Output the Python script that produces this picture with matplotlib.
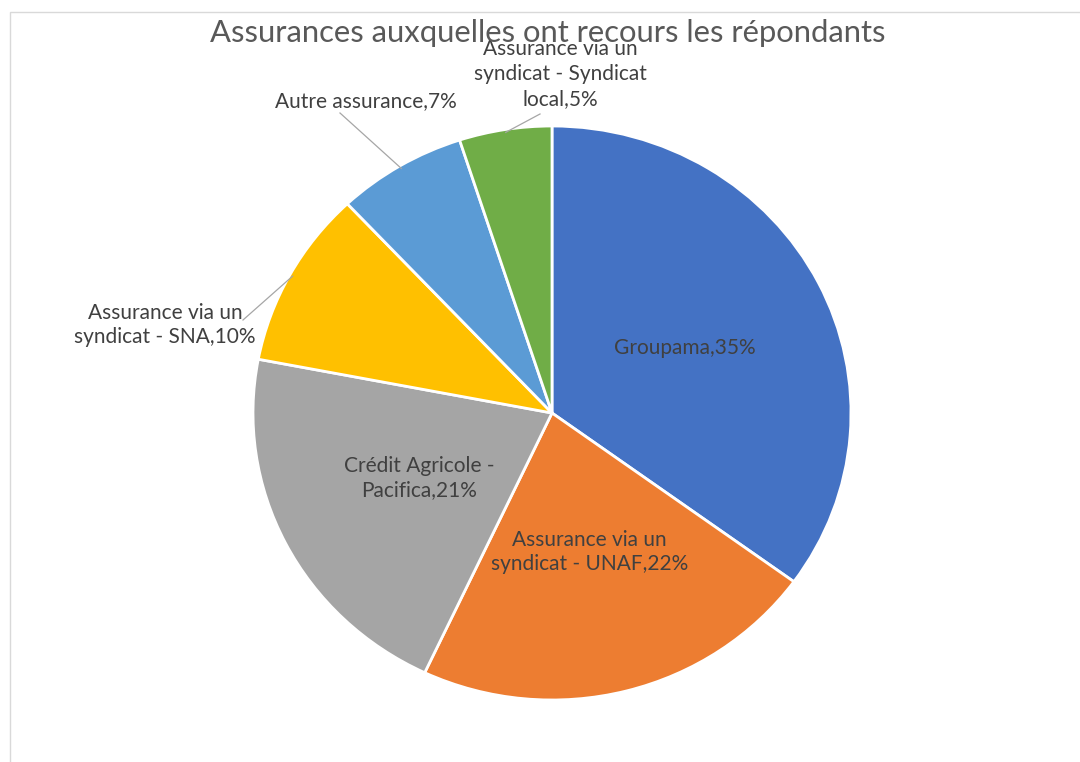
import numpy as np
import matplotlib.pyplot as plt
from matplotlib.patches import Rectangle

labels = ["Groupama", "Assurance via un\nsyndicat - UNAF", "Crédit Agricole -\nPacifica",
          "Assurance via un\nsyndicat - SNA", "Autre assurance", "Assurance via un\nsyndicat - Syndicat\nlocal"]
values = [35, 22, 21, 10, 7, 5]
colors = ["#4472C4", "#ED7D31", "#A5A5A5", "#FFC000", "#5B9BD5", "#70AD47"]
title = "Assurances auxquelles ont recours les répondants"

plt.rcParams['font.family'] = ['Lato', 'DejaVu Sans']

W, H = 1080, 762
fig = plt.figure(figsize=(W / 100, H / 100), dpi=100)
fig.patches.append(Rectangle((10 / W, -0.01), 1.0, 1 - 12 / H + 0.01, transform=fig.transFigure,
                             facecolor="none", edgecolor="#D9D9D9", linewidth=1, zorder=-1))

# pie bounding box in pixels (slightly wider than tall, as in the screenshot)
cx, cy, rx, ry = 552, 413, 299, 287
ax = fig.add_axes([(cx - rx) / W, (H - cy - ry) / H, 2 * rx / W, 2 * ry / H])
wedges, _ = ax.pie(values, colors=colors, startangle=90, counterclock=False, radius=1,
                   wedgeprops=dict(edgecolor="white", linewidth=2))
ax.set_aspect("auto")
ax.set_xlim(-1, 1)
ax.set_ylim(-1, 1)
ax.axis("off")

def px(x, y):
    return (x - cx) / rx, (cy - y) / ry

total = sum(values)
cum = np.cumsum([0] + values)
mids = [90 - 360 * (cum[i] + values[i] / 2) / total for i in range(len(values))]

text_kw = dict(fontsize=15, color="#404040", ha="center", va="center", linespacing=1.3)

# inside labels
for i in range(3):
    a = np.radians(mids[i])
    ax.text(0.5 * np.cos(a), 0.5 * np.sin(a), f"{labels[i]},{values[i]}%", **text_kw)

# outside labels with leader lines
outside = {3: ((165, 325), (243, 320)), 4: ((366, 101), (340, 113)), 5: ((560, 74), (540, 114))}
for i, (pos, end) in outside.items():
    ax.text(*px(*pos), f"{labels[i]},{values[i]}%", clip_on=False, **text_kw)
    a = np.radians(mids[i])
    ex, ey = 0.99 * np.cos(a), 0.99 * np.sin(a)
    lx, ly = px(*end)
    ax.plot([ex, lx], [ey, ly], color="#A6A6A6", linewidth=0.9, clip_on=False)

fig.text(548 / W, 1 - 33 / H, title, fontsize=22.3, color="#595959", ha="center", va="center")

fig.savefig("out.png", dpi=100)
